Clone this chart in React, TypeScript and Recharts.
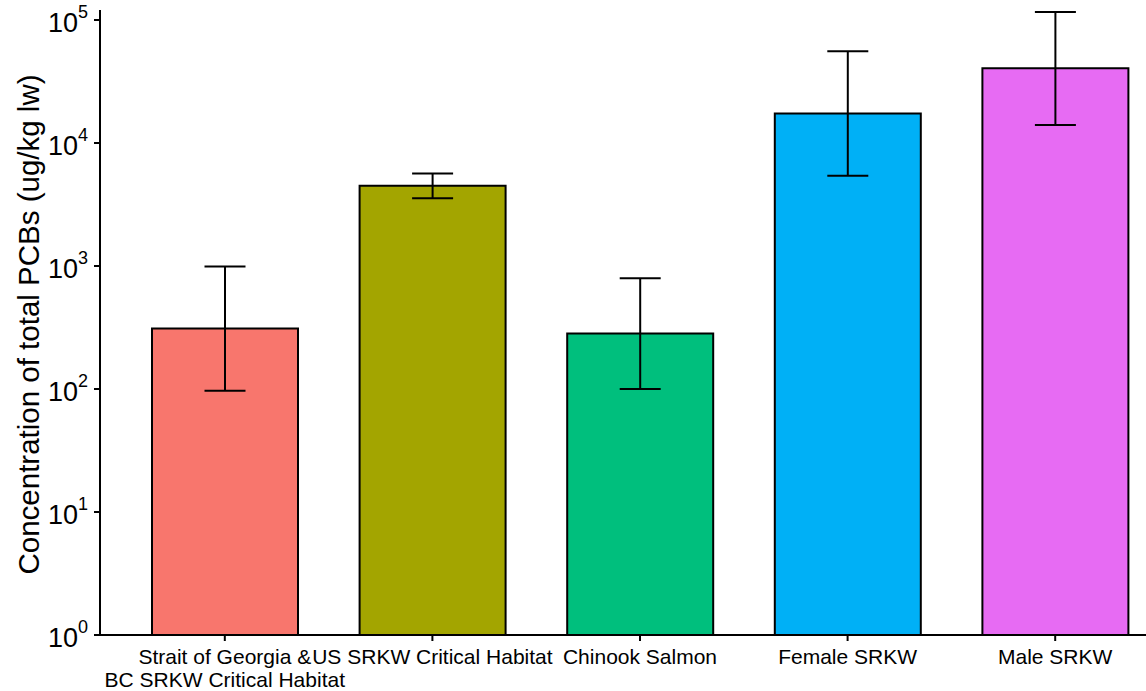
import React from "react"
import {
  BarChart,
  Bar,
  XAxis,
  YAxis,
  Cell,
  ErrorBar,
} from "recharts"

// categories, group means and error ranges (ug/kg lw)
const CATEGORIES = [
  "Strait of Georgia &\nBC SRKW Critical Habitat",
  "US SRKW Critical Habitat",
  "Chinook Salmon",
  "Female SRKW",
  "Male SRKW",
]
const MEANS = [310, 4500, 282, 17400, 40500]
const LOWER = [97, 3550, 100, 5420, 14000]
const UPPER = [990, 5650, 795, 55600, 116000]
const Y_TICKS = [1, 10, 100, 1000, 10000, 100000]

const COLORS = ["#F8766D", "#A3A500", "#00BF7D", "#00B0F6", "#E76BF3"]

const FONT = "'Liberation Sans', Arial, sans-serif"

const data = CATEGORIES.map((name, i) => ({
  name,
  value: MEANS[i],
  err: [MEANS[i] - LOWER[i], UPPER[i] - MEANS[i]],
}))

function PowerTick(props: any) {
  const { x, y, payload } = props
  const exp = Math.round(Math.log10(payload.value))
  return (
    <text
      x={x - 4}
      y={y + 12}
      textAnchor="end"
      fontFamily={FONT}
      fontSize={27}
      fill="#000"
    >
      <tspan>10</tspan>
      <tspan dy={-14} fontSize={18}>
        {exp}
      </tspan>
    </text>
  )
}

function CategoryTick(props: any) {
  const { x, y, payload } = props
  const lines = String(payload.value).split("\n")
  return (
    <text
      x={x}
      y={y + 21}
      textAnchor="middle"
      fontFamily={FONT}
      fontSize={21}
      fill="#000"
    >
      {lines.map((line, i) => (
        <tspan key={i} x={x} dy={i === 0 ? 0 : 23}>
          {line}
        </tspan>
      ))}
    </text>
  )
}

function YTitle(props: any) {
  const { viewBox } = props
  const cy = viewBox.y + viewBox.height / 2 + 2
  return (
    <text
      x={28}
      y={cy}
      transform={`rotate(-90, 28, ${cy})`}
      textAnchor="middle"
      dominantBaseline="central"
      fontFamily={FONT}
      fontSize={29.5}
      fill="#000"
    >
      Concentration of total PCBs (ug/kg lw)
    </text>
  )
}

export default function App() {
  return (
    <div
      style={{
        position: "absolute",
        left: 0,
        top: 0,
        width: 1146,
        height: 691,
        overflow: "hidden",
        background: "#fff",
      }}
    >
      <BarChart
        width={1190}
        height={691}
        data={data}
        margin={{ top: 10, right: 10, bottom: 0, left: 0 }}
      >
        <XAxis
          dataKey="name"
          height={56}
          interval={0}
          padding={{ left: 21, right: 21 }}
          axisLine={{ stroke: "#000", strokeWidth: 2 }}
          tickLine={{ stroke: "#000", strokeWidth: 2 }}
          tickSize={6}
          tick={<CategoryTick />}
        />
        <YAxis
          scale="log"
          domain={[1, 120600]}
          allowDataOverflow
          ticks={Y_TICKS}
          interval={0}
          width={100}
          axisLine={{ stroke: "#000", strokeWidth: 2 }}
          tickLine={{ stroke: "#000", strokeWidth: 2 }}
          tickSize={6}
          tick={<PowerTick />}
          label={<YTitle />}
        />
        <Bar
          dataKey="value"
          barSize={146}
          stroke="#000"
          strokeWidth={2}
          isAnimationActive={false}
        >
          {data.map((_, i) => (
            <Cell key={`cell-${i}`} fill={COLORS[i]} />
          ))}
          <ErrorBar
            dataKey="err"
            width={20.5}
            stroke="#000"
            strokeWidth={2}
            direction="y"
          />
        </Bar>
      </BarChart>
    </div>
  )
}
